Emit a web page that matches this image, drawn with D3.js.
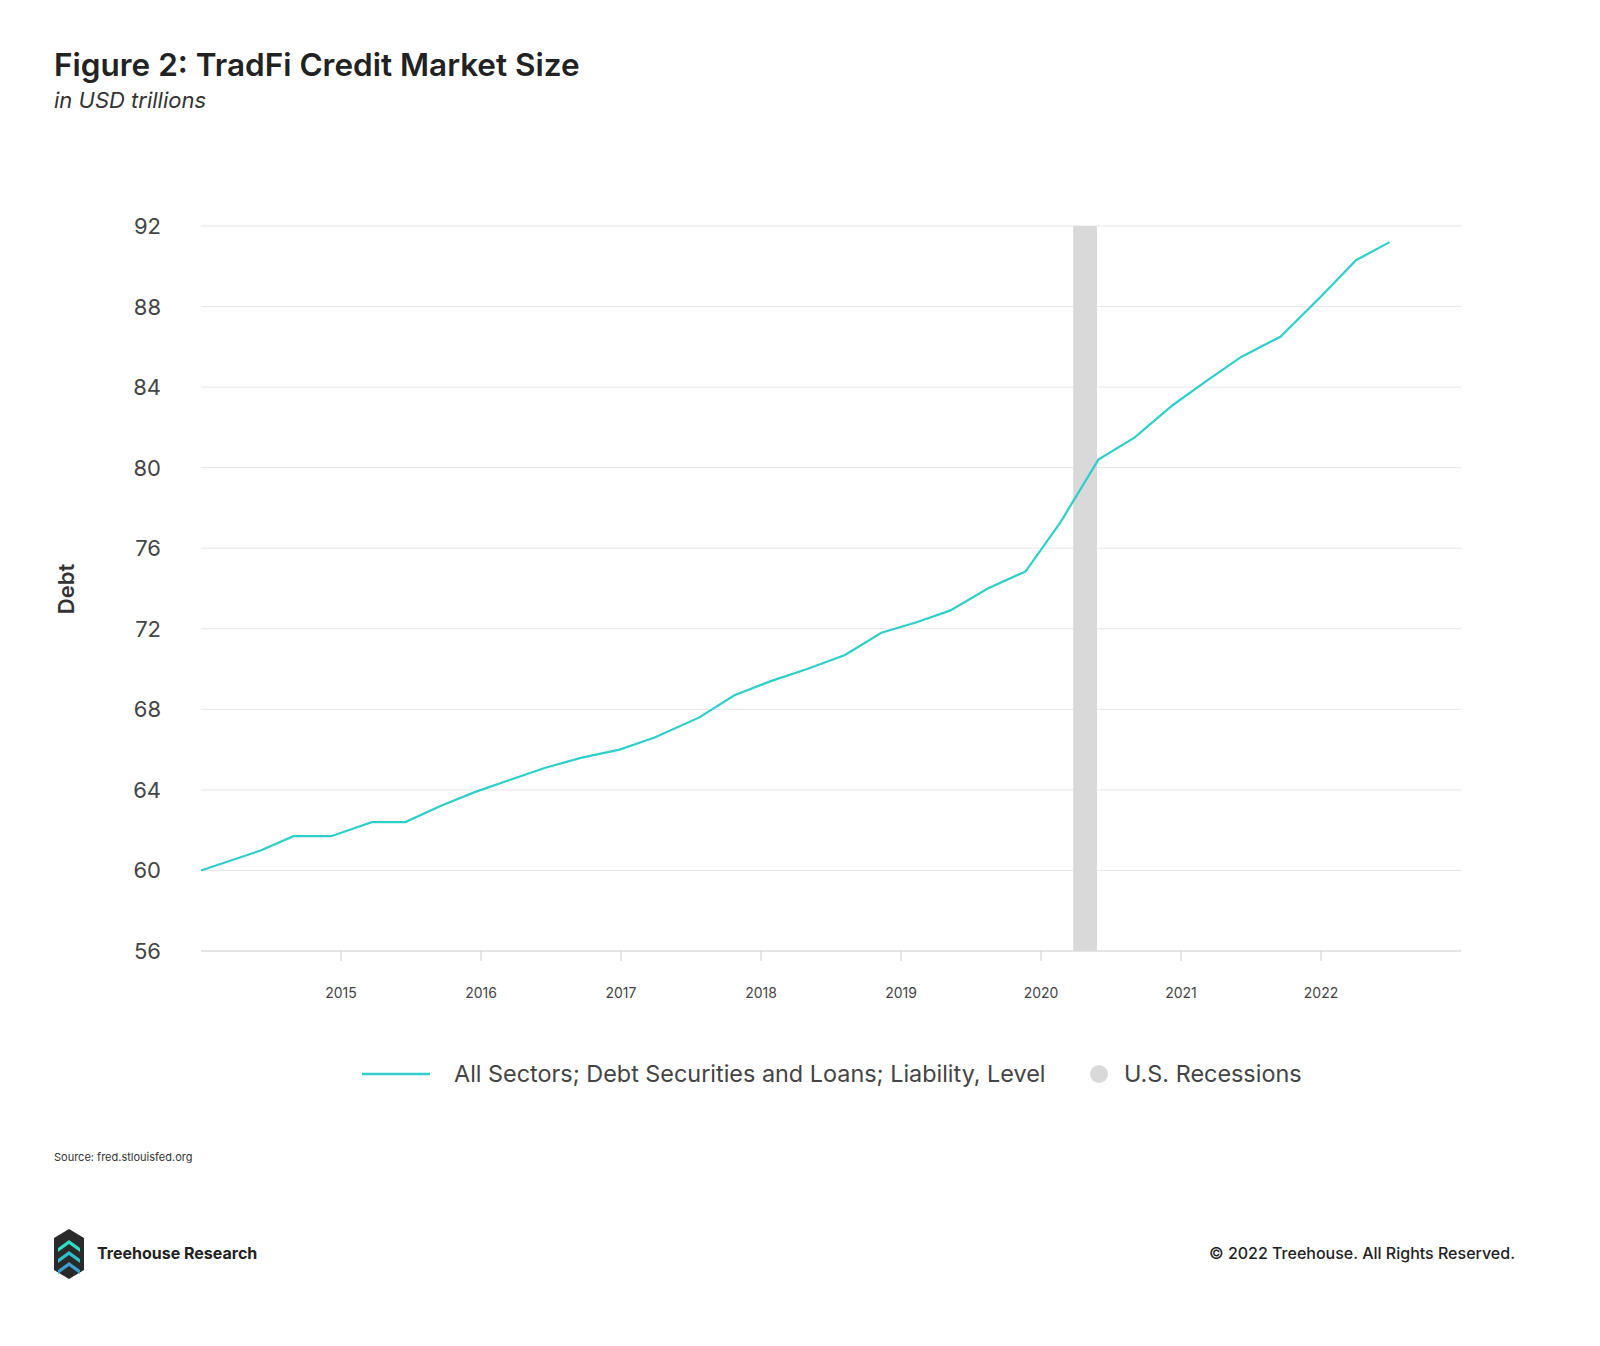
<!DOCTYPE html>
<html><head><meta charset="utf-8">
<script src="https://cdn.jsdelivr.net/npm/d3@7"></script>
<style>body{margin:0;background:#fff}svg{font-family:Inter,"Noto Sans",sans-serif}</style>
</head><body><svg id="c" width="1600" height="1346"></svg>
<script>
const dates=[2014.00,2014.43,2014.66,2014.93,2015.22,2015.46,2015.71,2015.96,2016.21,2016.46,2016.72,2016.99,2017.24,2017.56,2017.81,2018.07,2018.33,2018.6,2018.86,2019.10,2019.35,2019.62,2019.89,2020.14,2020.41,2020.67,2020.94,2021.18,2021.43,2021.71,2022.0,2022.25,2022.49];
const debt=[60.0,61.0,61.7,61.7,62.4,62.4,63.2,63.9,64.5,65.1,65.6,66.0,66.6,67.6,68.7,69.4,70.0,70.7,71.8,72.3,72.9,74.0,74.85,77.3,80.4,81.5,83.1,84.3,85.5,86.5,88.5,90.3,91.2];
const recession=[2020.23,2020.40];
const yTicks=[56,60,64,68,72,76,80,84,88,92];
const xTicks=[2015,2016,2017,2018,2019,2020,2021,2022];
const svg=d3.select("#c");
const x=d3.scaleLinear().domain([2014,2023]).range([201,1461]);
const y=d3.scaleLinear().domain([56,92]).range([951,226]);
svg.append("text").attr("x",54).attr("y",76).attr("font-size",31.5).attr("font-weight",600).attr("fill","#222").text("Figure 2: TradFi Credit Market Size");
svg.append("text").attr("x",54).attr("y",108).attr("font-size",22).attr("font-style","italic").attr("fill","#333").text("in USD trillions");
svg.selectAll(".g").data(yTicks).join("line").attr("x1",201).attr("x2",1461).attr("y1",d=>y(d)).attr("y2",d=>y(d)).attr("stroke",d=>d==56?"#ccc":"#e6e6e6");
svg.selectAll(".yl").data(yTicks).join("text").attr("x",161).attr("y",d=>y(d)+8).attr("text-anchor","end").attr("font-size",22).attr("fill","#444").text(d=>d);
svg.selectAll(".xt").data(xTicks).join("line").attr("x1",d=>x(d)).attr("x2",d=>x(d)).attr("y1",951).attr("y2",961).attr("stroke","#ccc");
svg.selectAll(".xl").data(xTicks).join("text").attr("x",d=>x(d)).attr("y",998).attr("text-anchor","middle").attr("font-size",14).attr("fill","#444").text(d=>d);
svg.append("rect").attr("x",x(recession[0])).attr("width",x(recession[1])-x(recession[0])).attr("y",226).attr("height",725).attr("fill","#d9d9d9");
svg.append("text").attr("transform","translate(74,589) rotate(-90)").attr("text-anchor","middle").attr("font-size",22).attr("font-weight",600).attr("fill","#333").text("Debt");
svg.append("path").datum(d3.zip(dates,debt)).attr("fill","none").attr("stroke","#2ecfca").attr("stroke-width",2.2)
 .attr("d",d3.line().x(d=>x(d[0])).y(d=>y(d[1])));
svg.append("line").attr("x1",362).attr("x2",430).attr("y1",1074).attr("y2",1074).attr("stroke","#2ecfca").attr("stroke-width",2.5);
svg.append("text").attr("x",454).attr("y",1082).attr("font-size",23.4).attr("fill","#444").text("All Sectors; Debt Securities and Loans; Liability, Level");
svg.append("circle").attr("cx",1099).attr("cy",1074).attr("r",9).attr("fill","#d9d9d9");
svg.append("text").attr("x",1124).attr("y",1082).attr("font-size",23.4).attr("fill","#444").text("U.S. Recessions");
svg.append("text").attr("x",54).attr("y",1161).attr("font-size",11).attr("fill","#333").text("Source: fred.stlouisfed.org");
svg.append("text").attr("x",97).attr("y",1259).attr("font-size",16).attr("font-weight",700).attr("fill","#222").text("Treehouse Research");
svg.append("text").attr("x",1515).attr("y",1259).attr("text-anchor","end").attr("font-size",16).attr("font-weight",500).attr("fill","#222").text("© 2022 Treehouse. All Rights Reserved.");
const lg=svg.append("g").attr("transform","translate(69,1254)");
lg.append("path").attr("d","M0,-25 L15,-16 L15,16 L0,25 L-15,16 L-15,-16 Z").attr("fill","#2a2a2a");
const cols=["#2ee0c0","#2ec0c8","#3aa0d0"];
[-12,-1,10].forEach((o,i)=>lg.append("path").attr("d",`M-11,${o+6} L0,${o-2} L11,${o+6} L11,${o+10} L0,${o+2} L-11,${o+10} Z`).attr("fill",cols[i]));
</script></body></html>
